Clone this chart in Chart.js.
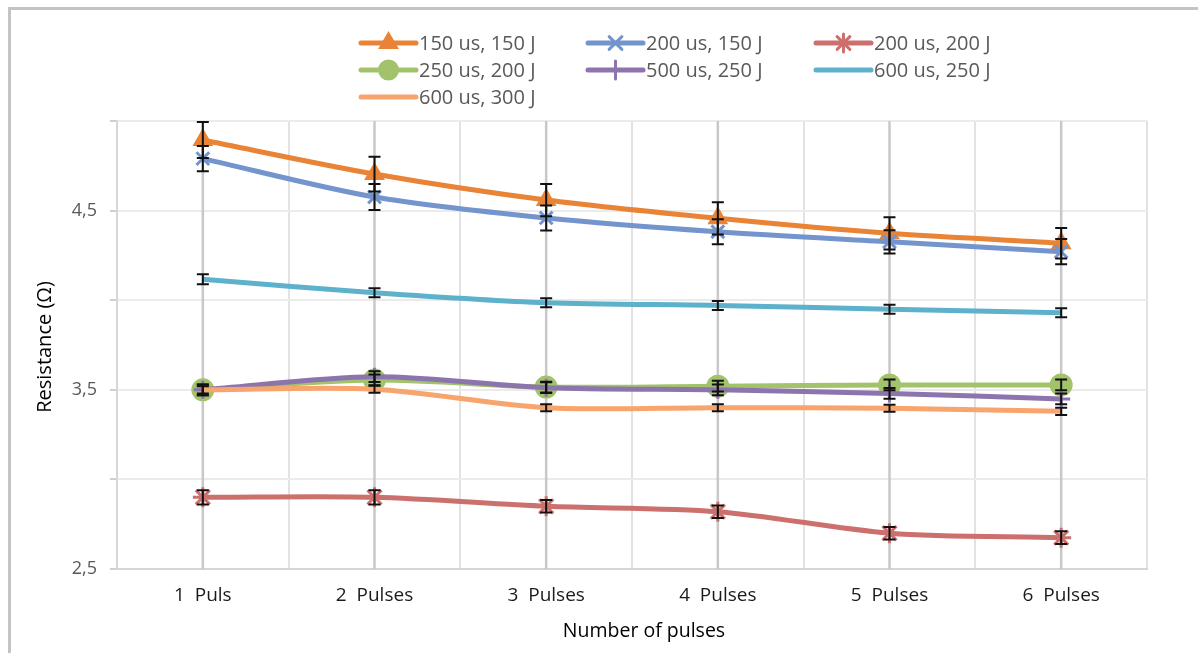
<!DOCTYPE html>
<html><head><meta charset="utf-8">
<script src="https://cdn.jsdelivr.net/npm/chart.js@4.4.1/dist/chart.umd.min.js"></script>
<style>html,body{margin:0;padding:0;background:#fff;overflow:hidden}#wrap{width:1198px;height:653px;position:relative}</style>
</head><body><div id="wrap"><canvas id="c" width="1198" height="653"></canvas></div>
<script>
// ---- data ----
const categories = ['1  Puls', '2  Pulses', '3  Pulses', '4  Pulses', '5  Pulses', '6  Pulses'];
const seriesNames = ['150 us, 150 J', '200 us, 150 J', '200 us, 200 J', '250 us, 200 J', '500 us, 250 J', '600 us, 250 J', '600 us, 300 J'];
const s150us150J = [4.894, 4.704, 4.559, 4.457, 4.373, 4.318];
const s200us150J = [4.790, 4.576, 4.459, 4.382, 4.326, 4.271];
const s200us200J = [2.900, 2.900, 2.850, 2.820, 2.700, 2.675];
const s250us200J = [3.500, 3.555, 3.515, 3.520, 3.527, 3.527];
const s500us250J = [3.500, 3.573, 3.512, 3.500, 3.480, 3.449];
const s600us250J = [4.117, 4.042, 3.986, 3.971, 3.949, 3.930];
const s600us300J = [3.500, 3.503, 3.400, 3.400, 3.397, 3.380];
const e150us150J = [0.100, 0.097, 0.090, 0.090, 0.090, 0.085];
const e200us150J = [0.070, 0.072, 0.070, 0.070, 0.065, 0.070];
const e200us200J = [0.040, 0.040, 0.035, 0.035, 0.035, 0.035];
const e250us200J = [0.030, 0.030, 0.030, 0.030, 0.030, 0.030];
const e500us250J = [0.030, 0.030, 0.030, 0.030, 0.030, 0.030];
const e600us250J = [0.028, 0.025, 0.025, 0.025, 0.025, 0.025];
const e600us300J = [0.020, 0.020, 0.020, 0.020, 0.020, 0.020];
const yTickLabels = ['2,5', '', '3,5', '', '4,5', ''];
const yTitle = 'Resistance (Ω)';
const xTitle = 'Number of pulses';

const values = [s150us150J, s200us150J, s200us200J, s250us200J, s500us250J, s600us250J, s600us300J];
const errors = [e150us150J, e200us150J, e200us200J, e250us200J, e500us250J, e600us250J, e600us300J];
const colors = ['#E98335', '#7394CC', '#CC706E', '#A2C36B', '#8C74AD', '#5EB1CB', '#F7A46D'];
const markers = ['triangle', 'crossRot', 'star', 'circle', 'cross', false, false];
const markerRadius = [9, 9, 10, 10, 9, 0, 0];

const FONT = '"Open Sans", "Liberation Sans", sans-serif';

const datasets = values.map((v, i) => ({
  label: seriesNames[i],
  data: v,
  errors: errors[i],
  borderColor: colors[i],
  backgroundColor: colors[i],
  borderWidth: 5,
  pointStyle: markers[i],
  pointRadius: markerRadius[i],
  pointBorderWidth: 3,
  pointBorderColor: colors[i],
  pointBackgroundColor: colors[i],
  tension: 0.3,
  fill: false,
  order: values.length - i
}));

const decor = {
  id: 'decor',
  beforeDraw(chart) {
    const ctx = chart.ctx;
    ctx.save();
    ctx.fillStyle = '#fff';
    ctx.fillRect(0, 0, chart.width, chart.height);
    ctx.fillStyle = '#c4c4c4';
    ctx.fillRect(8, 7, 3, chart.height - 7);
    ctx.fillRect(8, 7, chart.width - 8, 3);
    ctx.restore();
  },
  beforeDatasetsDraw(chart) {
    const ctx = chart.ctx, xs = chart.scales.x, a = chart.chartArea;
    ctx.save();
    ctx.strokeStyle = '#c8c8c8';
    ctx.lineWidth = 2.5;
    categories.forEach((c, i) => {
      const x = xs.getPixelForValue(i);
      ctx.beginPath(); ctx.moveTo(x, a.top); ctx.lineTo(x, a.bottom); ctx.stroke();
    });
    ctx.restore();
  },
  afterDatasetsDraw(chart) {
    const ctx = chart.ctx, ys = chart.scales.y;
    ctx.save();
    ctx.strokeStyle = '#111';
    ctx.lineWidth = 2;
    chart.data.datasets.forEach((ds, i) => {
      const meta = chart.getDatasetMeta(i);
      meta.data.forEach((pt, j) => {
        const v = ds.data[j], e = ds.errors[j];
        const y1 = ys.getPixelForValue(v + e), y2 = ys.getPixelForValue(v - e);
        const x = pt.x;
        ctx.beginPath();
        ctx.moveTo(x, y1); ctx.lineTo(x, y2);
        ctx.moveTo(x - 6, y1); ctx.lineTo(x + 6, y1);
        ctx.moveTo(x - 6, y2); ctx.lineTo(x + 6, y2);
        ctx.stroke();
      });
    });
    ctx.restore();
  },
  afterDraw(chart) {
    const ctx = chart.ctx, a = chart.chartArea;
    ctx.save();
    // legend
    const colX = [361, 588, 816], rowY = [43, 70, 97];
    chart.data.datasets.forEach((ds, i) => {
      const x0 = colX[i % 3], y = rowY[Math.floor(i / 3)];
      ctx.strokeStyle = ds.borderColor;
      ctx.lineWidth = 5;
      ctx.lineCap = 'round';
      ctx.beginPath(); ctx.moveTo(x0, y); ctx.lineTo(x0 + 55, y); ctx.stroke();
      if (ds.pointStyle) {
        ctx.fillStyle = ds.borderColor;
        ctx.strokeStyle = ds.borderColor;
        ctx.lineWidth = 3;
        Chart.helpers.drawPoint(ctx, {pointStyle: ds.pointStyle, radius: Math.min(ds.pointRadius, 9), borderWidth: 3, rotation: 0}, x0 + 27.5, y);
      }
      ctx.fillStyle = '#595959';
      ctx.font = '20px ' + FONT;
      ctx.textAlign = 'left';
      ctx.textBaseline = 'middle';
      ctx.fillText(ds.label, x0 + 58, y + 1);
    });
    // axis titles
    ctx.fillStyle = '#000';
    ctx.font = '19.5px ' + FONT;
    ctx.textAlign = 'center';
    ctx.textBaseline = 'middle';
    ctx.fillText(xTitle, (a.left + a.right) / 2 + 12, 631);
    ctx.font = '20px ' + FONT;
    ctx.translate(45, (a.top + a.bottom) / 2 + 2);
    ctx.rotate(-Math.PI / 2);
    ctx.fillText(yTitle, 0, 0);
    ctx.restore();
  }
};

new Chart(document.getElementById('c'), {
  type: 'line',
  data: { labels: categories, datasets },
  options: {
    responsive: false,
    animation: false,
    devicePixelRatio: 1,
    layout: { padding: { top: 121, right: 51, left: 0, bottom: 0 } },
    plugins: { legend: { display: false }, tooltip: { enabled: false } },
    scales: {
      x: {
        type: 'category',
        offset: true,
        grid: { offset: true, color: '#e2e2e2', lineWidth: 2, drawTicks: false },
        border: { display: true, color: '#d6d6d6', width: 2 },
        ticks: { color: '#1a1a1a', font: { family: FONT, size: 19 }, padding: 15, maxRotation: 0, autoSkip: false },
        afterFit(s) { s.height = 84; }
      },
      y: {
        min: 2.5, max: 5.0,
        grid: { color: '#ebebeb', lineWidth: 2, tickColor: '#cfcfcf', tickLength: 7 },
        border: { display: true, color: '#d6d6d6', width: 2 },
        ticks: { stepSize: 0.5, color: '#595959', font: { family: FONT, size: 18 }, padding: 13,
          callback: (v, i) => yTickLabels[i] },
        afterFit(s) { s.width = 117; }
      }
    }
  },
  plugins: [decor]
});
</script></body></html>
